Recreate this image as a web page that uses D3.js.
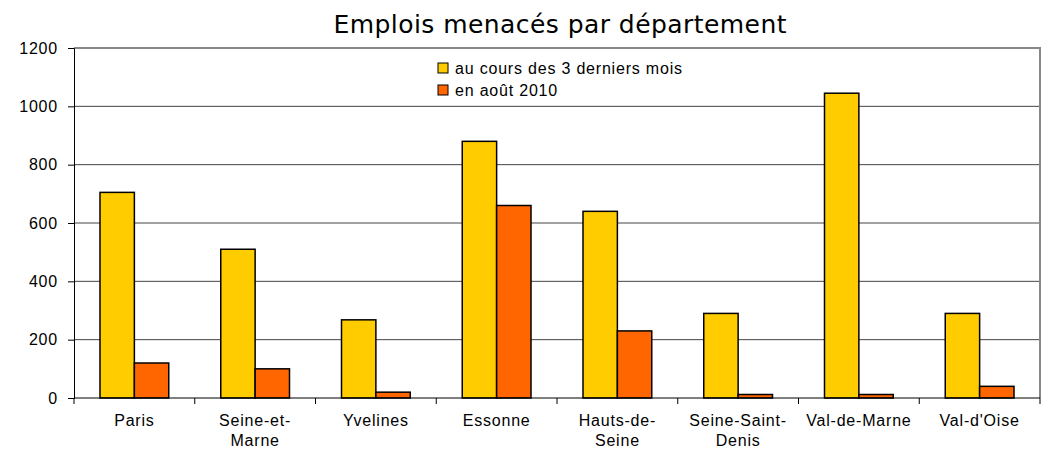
<!DOCTYPE html>
<html>
<head>
<meta charset="utf-8">
<script src="https://cdn.jsdelivr.net/npm/d3@7"></script>
<style>
  body { margin: 0; background: #fff; }
  text { font-family: "Liberation Sans", Arial, sans-serif; fill: #000; }
  .lbl { font-size: 16px; letter-spacing: 0.8px; }
</style>
</head>
<body>
<div id="vis"></div>
<script>
// data
var departements = ["Paris", "Seine-et-Marne", "Yvelines", "Essonne", "Hauts-de-Seine", "Seine-Saint-Denis", "Val-de-Marne", "Val-d'Oise"];
var labelLines = [["Paris"], ["Seine-et-", "Marne"], ["Yvelines"], ["Essonne"], ["Hauts-de-", "Seine"], ["Seine-Saint-", "Denis"], ["Val-de-Marne"], ["Val-d'Oise"]];
var troisMois = [705, 510, 268, 880, 640, 290, 1045, 290];
var aout2010 = [120, 100, 20, 660, 230, 12, 12, 40];
var seriesNames = ["au cours des 3 derniers mois", "en août 2010"];
var seriesColors = ["#FFCC00", "#FF6600"];
var yTicks = [0, 200, 400, 600, 800, 1000, 1200];

var W = 1062, H = 450;
var margin = {top: 48, right: 22, bottom: 52, left: 74},
    width = W - margin.left - margin.right,
    height = H - margin.top - margin.bottom;

var svg = d3.select("#vis").append("svg")
    .attr("width", W)
    .attr("height", H);

var g = svg.append("g")
    .attr("transform", "translate(" + margin.left + "," + margin.top + ")");

var x = d3.scaleBand().domain(departements).range([0, width]).paddingInner(0).paddingOuter(0);
var x1 = d3.scaleBand().domain([0, 1]).range([26, x.bandwidth() - 26]);
var y = d3.scaleLinear().domain([0, 1200]).range([height, 0]);

// gridlines
g.selectAll(".grid").data(yTicks.slice(1, -1)).enter().append("line")
    .attr("x1", 0).attr("x2", width)
    .attr("y1", function(d) { return y(d); })
    .attr("y2", function(d) { return y(d); })
    .attr("stroke", "#444").attr("stroke-width", 1);

// plot border top & right (gray)
g.append("path")
    .attr("d", "M0," + y(1200) + "H" + width + "V" + height)
    .attr("fill", "none").attr("stroke", "#888").attr("stroke-width", 2);

// bars
var rows = departements.map(function(d, i) { return {dep: d, vals: [troisMois[i], aout2010[i]]}; });
var grp = g.selectAll(".grp").data(rows).enter().append("g")
    .attr("transform", function(d) { return "translate(" + x(d.dep) + ",0)"; });
grp.selectAll("rect").data(function(d) { return d.vals; }).enter().append("rect")
    .attr("x", function(d, i) { return x1(i); })
    .attr("width", x1.bandwidth())
    .attr("y", function(d) { return y(d); })
    .attr("height", function(d) { return height - y(d); })
    .attr("fill", function(d, i) { return seriesColors[i]; })
    .attr("stroke", "#000").attr("stroke-width", 1.5);

// y axis
var yAxis = g.append("g")
    .call(d3.axisLeft(y).tickValues(yTicks).tickFormat(d3.format("d")).tickSize(6).tickPadding(10));
yAxis.select(".domain").attr("stroke", "#000");
yAxis.selectAll(".tick line").attr("stroke", "#000");
yAxis.selectAll("text").attr("class", "lbl").attr("fill", "#000").attr("font-size", null);
yAxis.attr("font-size", null).attr("font-family", null);

// x axis
var xAxis = g.append("g").attr("transform", "translate(0," + height + ")");
xAxis.append("line").attr("x1", 0).attr("x2", width).attr("stroke", "#000");
xAxis.selectAll(".xt").data(d3.range(departements.length + 1)).enter().append("line")
    .attr("x1", function(i) { return i * x.step(); })
    .attr("x2", function(i) { return i * x.step(); })
    .attr("y1", 0).attr("y2", 6).attr("stroke", "#000");
xAxis.selectAll(".xl").data(departements).enter().append("text")
    .attr("class", "lbl")
    .attr("text-anchor", "middle")
    .attr("transform", function(d) { return "translate(" + (x(d) + x.bandwidth() / 2) + ",28)"; })
    .each(function(d, i) {
        d3.select(this).selectAll("tspan").data(labelLines[i]).enter().append("tspan")
            .attr("x", 0).attr("dy", function(t, k) { return k ? 20 : 0; })
            .text(function(t) { return t; });
    });

// title
svg.append("text")
    .attr("x", 560).attr("y", 33)
    .attr("text-anchor", "middle")
    .style("font-family", "'DejaVu Sans', sans-serif")
    .style("font-size", "25px")
    .attr("textLength", 453)
    .text("Emplois menacés par département");

// legend
var legend = svg.selectAll(".legend").data(seriesNames).enter().append("g")
    .attr("transform", function(d, i) { return "translate(438," + (63 + i * 22) + ")"; });
legend.append("rect")
    .attr("width", 10).attr("height", 10)
    .attr("fill", function(d, i) { return seriesColors[i]; })
    .attr("stroke", "#000").attr("stroke-width", 1);
legend.append("text")
    .attr("class", "lbl")
    .attr("x", 17).attr("y", 11)
    .text(function(d) { return d; });
</script>
</body>
</html>
